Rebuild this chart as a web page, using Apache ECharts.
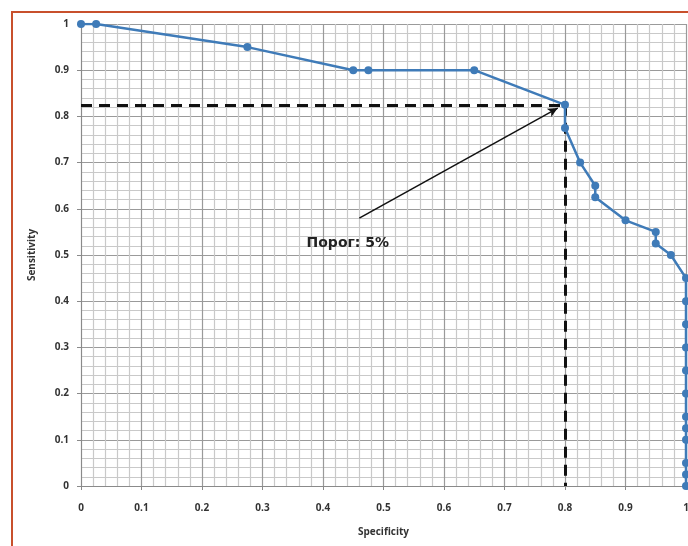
<!DOCTYPE html>
<html>
<head>
<meta charset="utf-8">
<script src="https://cdn.jsdelivr.net/npm/echarts@6/dist/echarts.min.js"></script>
<style>
  html, body { margin: 0; padding: 0; background: #fff; }
  #chart { width: 688px; height: 546px; }
</style>
</head>
<body>
<div id="chart"></div>
<script>
// specificity / sensitivity pairs
var specificity = [0, 0.025, 0.275, 0.45, 0.475, 0.65, 0.8, 0.8, 0.825, 0.85, 0.85, 0.9, 0.95, 0.95, 0.975,
    1, 1, 1, 1, 1, 1, 1, 1, 1, 1, 1, 1];
var sensitivity = [1, 1, 0.95, 0.9, 0.9, 0.9, 0.825, 0.775, 0.7, 0.65, 0.625, 0.575, 0.55, 0.525, 0.5,
    0.45, 0.4, 0.35, 0.3, 0.25, 0.2, 0.15, 0.125, 0.1, 0.05, 0.025, 0];

// threshold point and annotation
var cutoff = [0.8, 0.825];
var arrowFrom = [0.46, 0.58];
var arrowTo = [0.788, 0.818];
var noteAt = [0.441, 0.526];
var noteText = 'Порог: 5%';

var points = specificity.map(function (x, i) { return [x, sensitivity[i]]; });

var labelFont = { fontFamily: 'Open Sans', fontWeight: 'bold', fontSize: 10, color: '#333' };

function valueAxis(name, nameGap, rotate, labelMargin) {
    return {
        type: 'value',
        min: 0,
        max: 1,
        interval: 0.1,
        name: name,
        nameLocation: 'middle',
        nameGap: nameGap,
        nameRotate: rotate,
        nameTextStyle: { fontFamily: 'Open Sans', fontWeight: 'bold', fontSize: 10, color: '#333' },
        axisLine: { show: true, lineStyle: { color: '#8a8a8a', width: 1 } },
        axisTick: { show: true, length: 4, lineStyle: { color: '#8a8a8a' } },
        axisLabel: Object.assign({ margin: labelMargin }, labelFont),
        splitLine: { show: true, lineStyle: { color: '#9a9a9a', width: 1.2 } },
        minorTick: { show: false, splitNumber: 5 },
        minorSplitLine: { show: true, lineStyle: { color: '#c9c9c9', width: 1.2 } }
    };
}

var chart = echarts.init(document.getElementById('chart'));
chart.setOption({
    backgroundColor: '#fff',
    animation: false,
    grid: { left: 81, right: 2, top: 24, bottom: 60, outerBoundsMode: 'none', containLabel: false },
    xAxis: valueAxis('Specificity', 41, 0, 17),
    yAxis: valueAxis('Sensitivity', 44, 90, 12),
    graphic: [{
        type: 'rect',
        shape: { x: 12, y: 12, width: 720, height: 600 },
        style: { fill: 'none', stroke: '#c8502c', lineWidth: 2 },
        z: 100
    }],
    series: [{
        type: 'line',
        data: points,
        symbol: 'circle',
        symbolSize: 8,
        lineStyle: { color: '#3f7bb8', width: 2.5 },
        itemStyle: { color: '#3f7bb8' },
        z: 5,
        markLine: {
            silent: true,
            symbol: 'none',
            label: { show: false },
            lineStyle: { color: '#111', width: 3, type: [11, 7] },
            z: 4,
            data: [
                [{ coord: [0, cutoff[1]] }, { coord: cutoff }],
                [{ coord: cutoff }, { coord: [cutoff[0], 0] }],
                [
                    { coord: arrowFrom, symbol: 'none', lineStyle: { type: 'solid', width: 1.5, color: '#111' } },
                    { coord: arrowTo, symbol: 'arrow', symbolSize: [7, 10] }
                ]
            ]
        },
        markPoint: {
            silent: true,
            symbol: 'circle',
            symbolSize: 0,
            label: {
                show: true,
                position: 'inside',
                formatter: noteText,
                fontFamily: 'DejaVu Sans',
                fontWeight: 'bold',
                fontSize: 14,
                color: '#222'
            },
            data: [{ coord: noteAt }]
        }
    }]
});
</script>
</body>
</html>
